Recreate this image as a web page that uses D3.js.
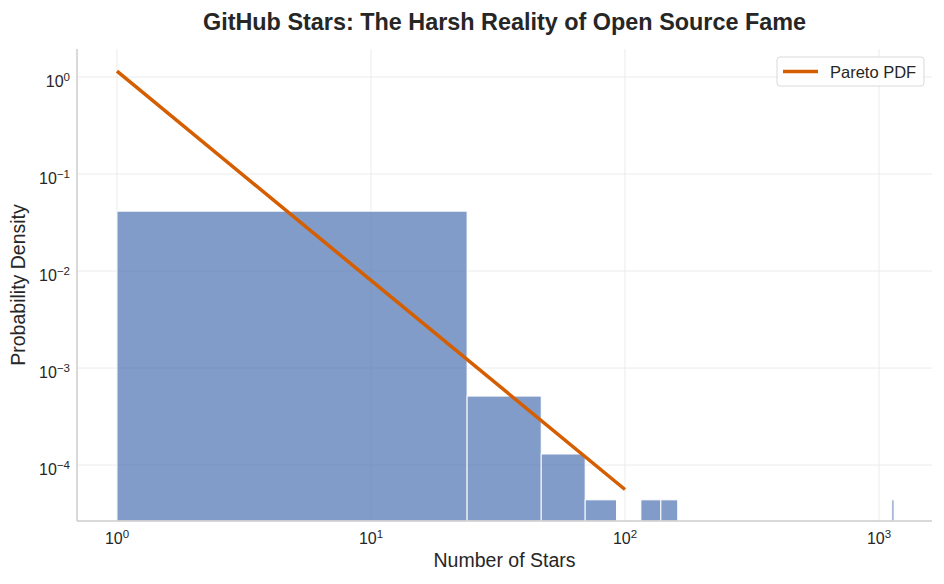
<!DOCTYPE html>
<html>
<head>
    <meta charset="utf-8" />
    <title>GitHub Stars</title>
    <style>
        body { margin: 0; background: #ffffff; }
        text { font-family: "Liberation Sans", Arial, sans-serif; fill: #262626; }
        .grid line { stroke: #ebebeb; stroke-width: 1; }
        .spine { stroke: #cccccc; stroke-width: 1.5; }
        .tick-label { font-size: 16px; }
        .sup { font-size: 11.5px; }
        .bar { fill: #4c72b0; fill-opacity: 0.7; stroke: #ffffff; stroke-width: 1; }
        .pdf { fill: none; stroke: #d55e00; stroke-width: 3.5; }
    </style>
    <script src="https://cdn.jsdelivr.net/npm/d3@7"></script>
</head>
<body>
    <svg width="944" height="584"></svg>

    <script>
        // histogram bins (stars) and their densities
        var binStart = [1, 23.9, 46.8, 69.7, 115.5, 138.4, 1123.1];
        var binEnd   = [23.9, 46.8, 69.7, 92.6, 138.4, 161.3, 1146];
        var density  = [0.0414, 5.14e-4, 1.30e-4, 4.38e-5, 4.38e-5, 4.38e-5, 4.38e-5];

        // fitted Pareto pdf
        var pdfX = [1, 10, 100];
        var pdfY = [1.15, 8.0e-3, 5.6e-5];

        var xTicks = [1, 10, 100, 1000];
        var yTicks = [1, 0.1, 0.01, 0.001, 0.0001];

        var svg = d3.select('svg'),
            margin = { top: 49, right: 12, bottom: 63, left: 77 },
            width = +svg.attr('width') - margin.left - margin.right,
            height = +svg.attr('height') - margin.top - margin.bottom;

        var x = d3.scaleLog().domain([0.696, 1617]).range([0, width]);
        var y = d3.scaleLog().domain([2.65e-5, 1.944]).range([height, 0]);

        var g = svg.append('g')
            .attr('transform', 'translate(' + margin.left + ',' + margin.top + ')');

        // grid
        var grid = g.append('g').attr('class', 'grid');
        grid.selectAll('.gx').data(xTicks).enter().append('line')
            .attr('x1', x).attr('x2', x).attr('y1', 0).attr('y2', height);
        grid.selectAll('.gy').data(yTicks).enter().append('line')
            .attr('x1', 0).attr('x2', width).attr('y1', y).attr('y2', y);

        // bars
        g.selectAll('.bar').data(density).enter().append('rect')
            .attr('class', 'bar')
            .attr('x', function(d, i) { return x(binStart[i]); })
            .attr('width', function(d, i) { return x(binEnd[i]) - x(binStart[i]); })
            .attr('y', function(d) { return y(d); })
            .attr('height', function(d) { return height - y(d); });

        // pareto line
        g.append('path')
            .attr('class', 'pdf')
            .attr('d', d3.line()
                .x(function(d) { return x(d); })
                .y(function(d, i) { return y(pdfY[i]); })(pdfX));

        // spines
        g.append('line').attr('class', 'spine')
            .attr('x1', 0).attr('x2', 0).attr('y1', 0).attr('y2', height);
        g.append('line').attr('class', 'spine')
            .attr('x1', 0).attr('x2', width).attr('y1', height).attr('y2', height);

        function power(d) { return Math.round(Math.log10(d)); }

        function supLabel(sel) {
            sel.append('tspan').text('10');
            sel.append('tspan').attr('class', 'sup').attr('dy', -6)
                .text(function(d) { var p = power(d); return p < 0 ? '\u2212' + (-p) : p; });
        }

        // x tick labels
        g.selectAll('.xl').data(xTicks).enter().append('text')
            .attr('class', 'tick-label')
            .attr('x', x)
            .attr('y', height + 22.5)
            .attr('text-anchor', 'middle')
            .call(supLabel);

        // y tick labels
        g.selectAll('.yl').data(yTicks).enter().append('text')
            .attr('class', 'tick-label')
            .attr('x', -7)
            .attr('y', function(d) { return y(d) + 9.5; })
            .attr('text-anchor', 'end')
            .call(supLabel);

        // axis titles
        g.append('text')
            .attr('x', width / 2)
            .attr('y', height + 46)
            .attr('text-anchor', 'middle')
            .style('font-size', '19.5px')
            .text('Number of Stars');

        g.append('text')
            .attr('transform', 'translate(' + (-52) + ',' + height / 2 + ') rotate(-90)')
            .attr('text-anchor', 'middle')
            .style('font-size', '19.5px')
            .text('Probability Density');

        // title
        svg.append('text')
            .attr('x', margin.left + width / 2)
            .attr('y', 29.5)
            .attr('text-anchor', 'middle')
            .style('font-size', '23.4px')
            .style('font-weight', 'bold')
            .text('GitHub Stars: The Harsh Reality of Open Source Fame');

        // legend
        var legend = svg.append('g').attr('transform', 'translate(777,57)');
        legend.append('rect')
            .attr('width', 147).attr('height', 29).attr('rx', 3)
            .attr('fill', '#ffffff').attr('fill-opacity', 0.8)
            .attr('stroke', '#d9d9d9');
        legend.append('line')
            .attr('class', 'pdf')
            .attr('x1', 6).attr('x2', 41).attr('y1', 14.5).attr('y2', 14.5);
        legend.append('text')
            .attr('x', 53).attr('y', 20.5)
            .style('font-size', '16.5px')
            .text('Pareto PDF');
    </script>
</body>
</html>
